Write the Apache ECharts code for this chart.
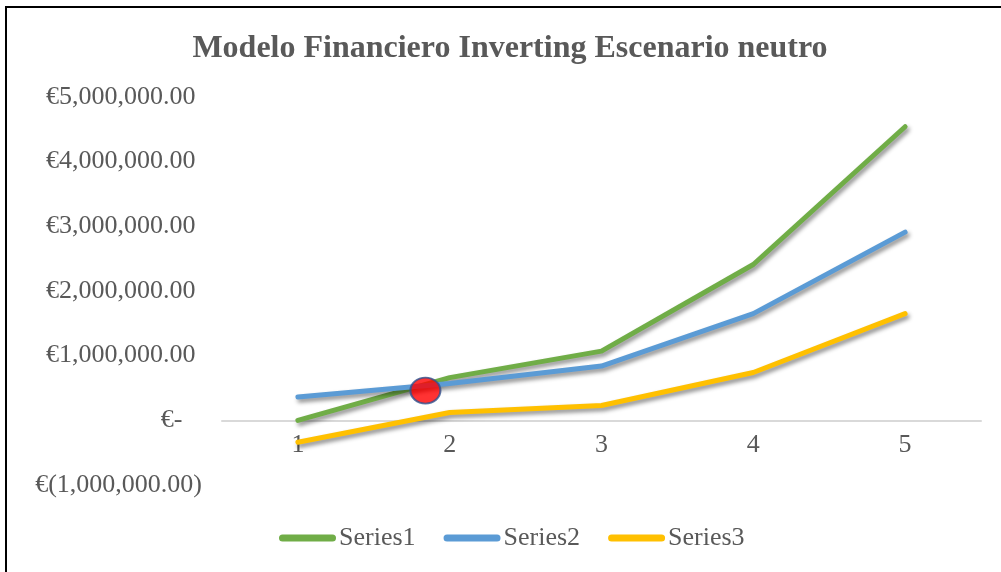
<!DOCTYPE html>
<html>
<head>
<meta charset="utf-8">
<script src="https://cdn.jsdelivr.net/npm/echarts@6/dist/echarts.min.js"></script>
<style>
  html, body { margin: 0; padding: 0; background: #fff; }
  #chart { width: 1001px; height: 572px; }
</style>
</head>
<body>
<div id="chart"></div>
<script>
// datos
var categories = ['1', '2', '3', '4', '5'];
var series1 = [0, 660000, 1070000, 2410000, 4540000];
var series2 = [360000, 570000, 840000, 1650000, 2910000];
var series3 = [-340000, 120000, 230000, 740000, 1650000];
var seriesNames = ['Series1', 'Series2', 'Series3'];
var yTicks = [-1000000, 0, 1000000, 2000000, 3000000, 4000000, 5000000];
// punto rojo (posicion en el eje de categorias, valor)
var marker = [[1.84, 460000]];

var fontFam = '"Liberation Serif", "Times New Roman", serif';
var gray = '#595959';
var gridTop = 97, gridBottom = 87, chartH = 572;

function money(v) {
        var s = Math.abs(v).toFixed(2).replace(/\B(?=(\d{3})+(?!\d))/g, ',');
        if (v > 0) return '€' + s + '\u00a0';
        if (v < 0) return '€(' + s + ')';
        return '€-\u00a0\u00a0\u00a0';
}

function lineSeries(name, data, color) {
        return {
                name: name,
                type: 'line',
                data: data,
                symbol: 'none',
                color: color,
                lineStyle: {
                        width: 5,
                        color: color,
                        cap: 'round',
                        join: 'round',
                        shadowColor: 'rgba(0,0,0,0.45)',
                        shadowBlur: 4,
                        shadowOffsetX: 2,
                        shadowOffsetY: 3
                }
        };
}

// el eje de categorias cruza en cero: desplazar desde el borde inferior
var yMin = yTicks[0], yMax = yTicks[yTicks.length - 1];
var plotH = chartH - gridTop - gridBottom;
var zeroOffset = -plotH * (0 - yMin) / (yMax - yMin);

var chart = echarts.init(document.getElementById('chart'));

var option = {
        backgroundColor: '#fff',
        animation: false,
        title: {
                text: 'Modelo Financiero Inverting Escenario neutro',
                left: 505,
                textAlign: 'center',
                top: 28,
                textStyle: {
                        fontFamily: fontFam,
                        fontWeight: 'bold',
                        fontSize: 32,
                        color: gray
                }
        },
        legend: {
                data: seriesNames,
                left: 274,
                top: 520,
                itemWidth: 57,
                itemHeight: 7,
                itemGap: 28,
                icon: 'path://M3.5,0 H53.5 A3.5,3.5 0 0 1 53.5,7 H3.5 A3.5,3.5 0 0 1 3.5,0 Z',
                textStyle: {
                        fontFamily: fontFam,
                        fontSize: 26,
                        color: gray,
                        padding: [0, 0, 0, -2]
                }
        },
        grid: {
                left: 222,
                right: 20,
                top: gridTop,
                bottom: gridBottom,
                containLabel: false
        },
        xAxis: [
            {
                    type: 'category',
                    data: categories,
                    boundaryGap: true,
                    offset: zeroOffset,
                    axisLine: { onZero: false, lineStyle: { color: '#d9d9d9', width: 2 } },
                    axisTick: { show: false },
                    axisLabel: {
                            margin: 12,
                            fontFamily: fontFam,
                            fontSize: 26,
                            color: gray
                    },
                    splitLine: { show: false }
            },
            {
                    type: 'value',
                    min: 0.5,
                    max: 5.5,
                    show: false
            }
        ],
        yAxis: [
            {
                    type: 'value',
                    min: yMin,
                    max: yMax,
                    interval: 1000000,
                    axisLine: { show: false },
                    axisTick: { show: false },
                    splitLine: { show: false },
                    axisLabel: {
                            margin: 20,
                            fontFamily: fontFam,
                            fontSize: 26,
                            color: gray,
                            formatter: money
                    }
            }
        ],
        series: [
            lineSeries(seriesNames[0], series1, '#70AD47'),
            lineSeries(seriesNames[1], series2, '#5B9BD5'),
            lineSeries(seriesNames[2], series3, '#FFC000'),
            {
                    name: 'punto',
                    type: 'scatter',
                    xAxisIndex: 1,
                    data: marker,
                    symbol: 'path://M0,50 A50,50 0 1 1 100,50 A50,50 0 1 1 0,50 Z',
                    symbolSize: [30, 26],
                    z: 10,
                    itemStyle: {
                            color: '#FF0000',
                            borderColor: '#2F528F',
                            borderWidth: 2
                    }
            }
        ],
        graphic: [
            { type: 'rect', shape: { x: 5, y: 6, width: 996, height: 2 }, style: { fill: '#000' } },
            { type: 'rect', shape: { x: 5, y: 6, width: 2, height: 566 }, style: { fill: '#000' } }
        ]
};

chart.setOption(option);
</script>
</body>
</html>
